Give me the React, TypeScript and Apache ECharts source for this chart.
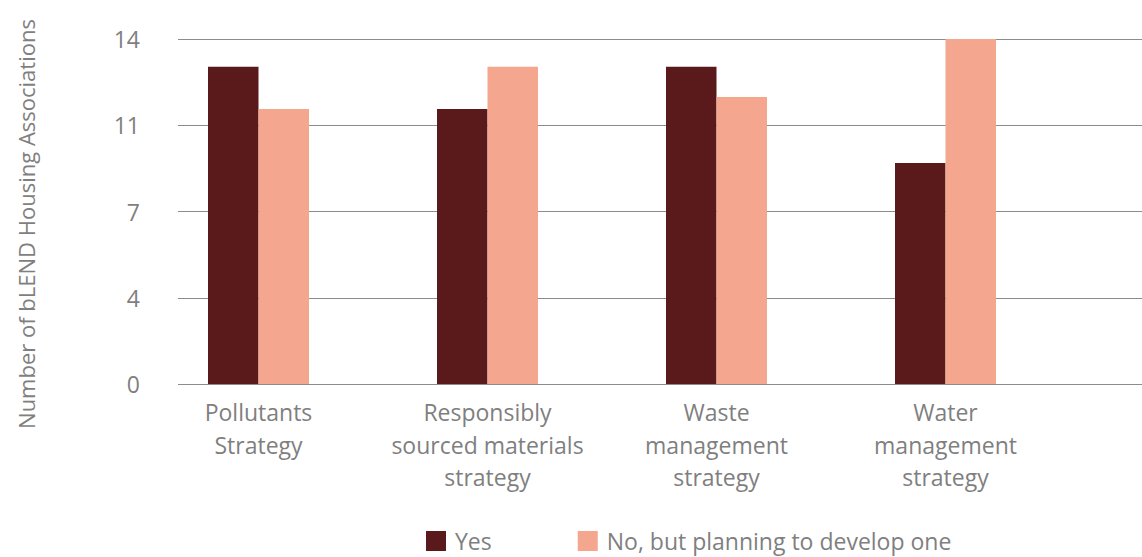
import React, { useEffect, useRef } from "react";
import * as echarts from "echarts";

const categories = [
  "Pollutants\nStrategy",
  "Responsibly\nsourced materials\nstrategy",
  "Waste\nmanagement\nstrategy",
  "Water\nmanagement\nstrategy",
];
const seriesNames = ["Yes", "No, but planning to develop one"];
const yesValues = [12.87, 11.16, 12.87, 8.97];
const noValues = [11.16, 12.87, 11.65, 14];
const yAxisTitle = "Number of bLEND Housing Associations";

const TEXT = "#7f7f7f";
const FONT = "'Open Sans', 'Noto Sans', sans-serif";

export default function App() {
  const ref = useRef<HTMLDivElement>(null);
  useEffect(() => {
    document.body.style.margin = "0";
    const chart = echarts.init(ref.current!, null, { renderer: "svg" });
    chart.setOption({
      animation: false,
      textStyle: { fontFamily: FONT },
      grid: [
        { left: 178, right: 0, top: 39, bottom: 173 },
        { left: 144, width: 916, top: 39, bottom: 173 },
      ],
      xAxis: [
        { gridIndex: 0, type: "value", show: false, min: 0, max: 1 },
        {
          gridIndex: 1,
          type: "category",
          data: categories,
          axisLine: { show: false },
          axisTick: { show: false },
          axisLabel: {
            interval: 0,
            fontSize: 23,
            lineHeight: 32.5,
            color: TEXT,
            margin: 12,
            fontFamily: FONT,
          },
        },
      ],
      yAxis: [
        {
          gridIndex: 0,
          type: "value",
          min: 0,
          max: 14,
          interval: 3.5,
          axisLine: { show: false },
          axisTick: { show: false },
          splitLine: { lineStyle: { color: "#8c8c8c", width: 1 } },
          axisLabel: {
            fontSize: 23,
            color: TEXT,
            margin: 38,
            fontFamily: FONT,
            formatter: (v: number) => String(Math.round(v)),
          },
        },
        { gridIndex: 1, type: "value", min: 0, max: 14, show: false },
      ],
      legend: {
        left: 426,
        top: 529,
        padding: 0,
        itemWidth: 20,
        itemHeight: 20,
        itemGap: 86,
        icon: "rect",
        textStyle: {
          fontSize: 23,
          lineHeight: 24,
          color: TEXT,
          fontFamily: FONT,
          padding: [0, 0, 0, 4],
        },
        data: seriesNames,
      },
      graphic: [
        {
          type: "text",
          x: 26,
          y: 224,
          rotation: Math.PI / 2,
          style: {
            text: yAxisTitle,
            fontSize: 22,
            fill: TEXT,
            fontFamily: FONT,
            textAlign: "center",
            textVerticalAlign: "middle",
          },
        },
      ],
      series: [
        {
          name: seriesNames[0],
          type: "bar",
          xAxisIndex: 1,
          yAxisIndex: 1,
          barWidth: 50.5,
          barGap: "0%",
          itemStyle: { color: "#5a1a1c" },
          data: yesValues,
        },
        {
          name: seriesNames[1],
          type: "bar",
          xAxisIndex: 1,
          yAxisIndex: 1,
          barWidth: 50.5,
          barGap: "0%",
          itemStyle: { color: "#f4a68e" },
          data: noValues,
        },
      ],
    });
    return () => chart.dispose();
  }, []);
  return <div ref={ref} style={{ width: 1142, height: 557 }} />;
}
